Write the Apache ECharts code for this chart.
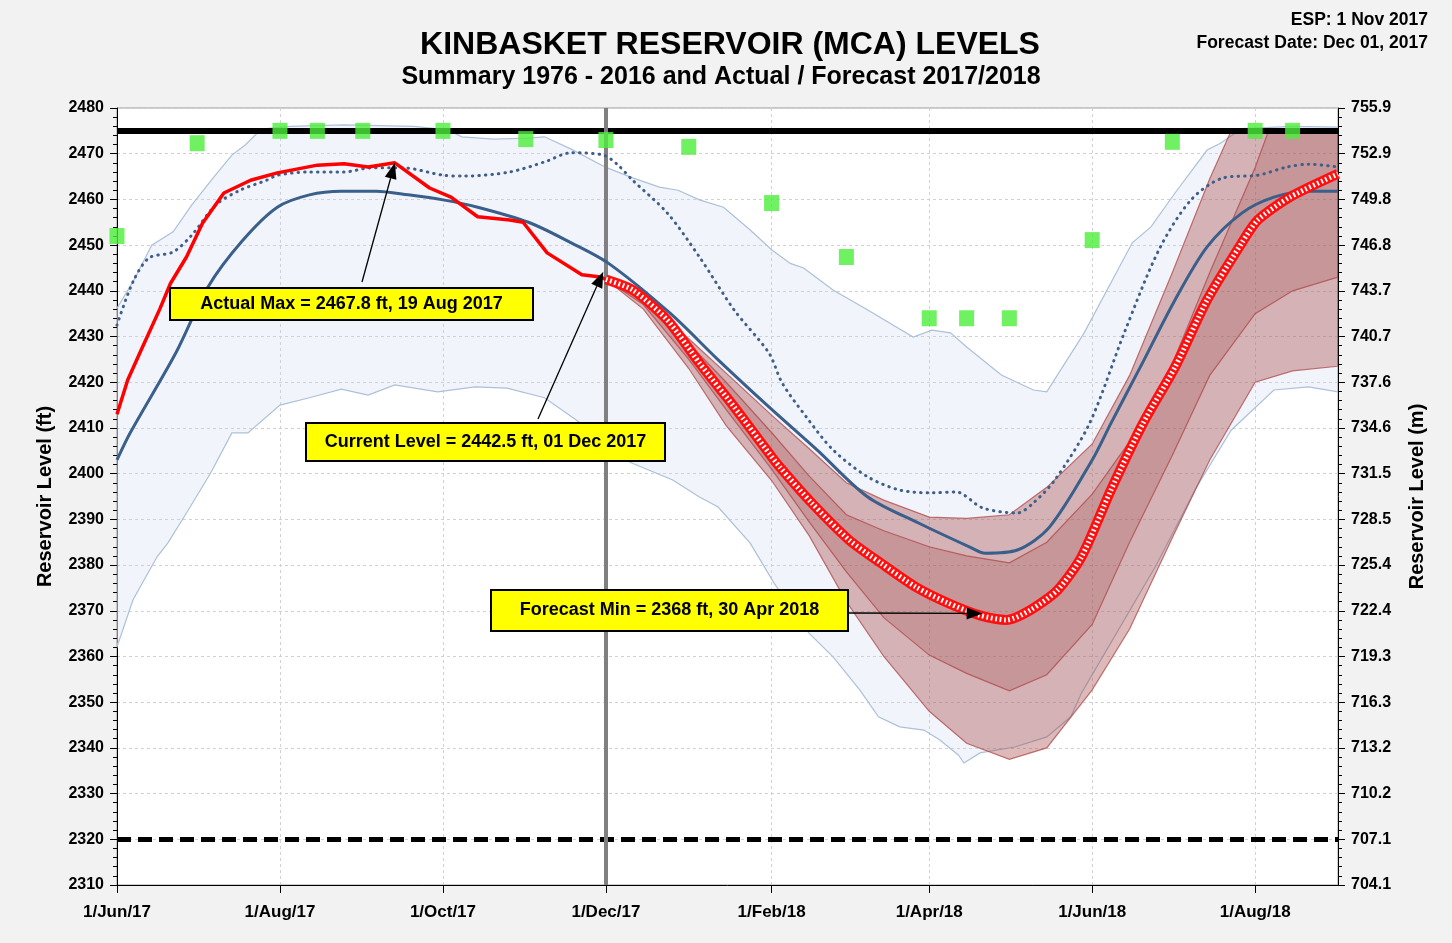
<!DOCTYPE html>
<html>
<head>
<meta charset="utf-8">
<script src="https://cdn.jsdelivr.net/npm/echarts@6/dist/echarts.min.js"></script>
<style>
html,body{margin:0;padding:0;background:#f2f2f2;}
#chart{width:1452px;height:943px;}
</style>
</head>
<body>
<div id="chart"></div>
<script>
// ---------------- DATA ----------------
const xTickDates = ['2017-06-01','2017-08-01','2017-10-01','2017-12-01','2018-02-01','2018-04-01','2018-06-01','2018-08-01'];
const xTickLabels = ['1/Jun/17','1/Aug/17','1/Oct/17','1/Dec/17','1/Feb/18','1/Apr/18','1/Jun/18','1/Aug/18'];
const xStart = '2017-06-01';
const xEnd = '2018-09-01';
const yMinFt = 2310, yMaxFt = 2480, yStepFt = 10;
const ftToM = 0.3048;

const fullPool = 2475;          // solid black line
const minPool = 2320;           // dashed black line
const forecastDate = '2017-12-01';

// historical 1976-2016 envelope
const histMax = [['2017-06-01',2436.2],['2017-06-07',2442.0],['2017-06-14',2450.0],['2017-06-22',2452.9],['2017-06-29',2458.8],['2017-07-07',2464.7],['2017-07-14',2469.7],['2017-07-19',2471.9],['2017-07-25',2475.4],['2017-08-05',2476.0],['2017-08-25',2476.3],['2017-09-20',2476.0],['2017-10-03',2475.2],['2017-10-08',2473.7],['2017-10-20',2473.2],['2017-11-02',2473.4],['2017-11-08',2473.7],['2017-11-18',2471.0],['2017-12-01',2467.0],['2017-12-11',2464.7],['2017-12-21',2462.7],['2017-12-28',2462.0],['2018-01-05',2459.9],['2018-01-14',2458.3],['2018-01-24',2453.3],['2018-02-01',2449.0],['2018-02-08',2446.0],['2018-02-13',2445.0],['2018-02-24',2440.2],['2018-03-09',2435.8],['2018-03-26',2429.9],['2018-04-02',2431.4],['2018-04-09',2430.8],['2018-04-15',2427.7],['2018-04-28',2421.6],['2018-05-10',2418.3],['2018-05-15',2417.9],['2018-05-29',2430.8],['2018-06-16',2450.5],['2018-06-23',2454.0],['2018-07-02',2461.4],['2018-07-14',2470.8],['2018-07-19',2472.3],['2018-07-27',2475.5],['2018-08-15',2476.0],['2018-09-01',2475.8]];
const histMin = [['2017-06-01',2362.1],['2017-06-07',2372.4],['2017-06-16',2381.8],['2017-06-20',2384.8],['2017-06-27',2391.4],['2017-07-06',2400.1],['2017-07-14',2408.9],['2017-07-20',2408.9],['2017-08-01',2415.0],['2017-08-12',2416.6],['2017-08-24',2418.5],['2017-09-03',2417.2],['2017-09-13',2419.4],['2017-09-29',2417.9],['2017-10-13',2419.0],['2017-10-25',2418.7],['2017-11-08',2416.6],['2017-11-20',2411.7],['2017-12-10',2402.5],['2017-12-26',2398.6],['2018-01-05',2394.9],['2018-01-12',2392.7],['2018-01-24',2384.8],['2018-02-02',2376.0],['2018-02-15',2365.1],['2018-02-24',2359.9],['2018-03-06',2352.7],['2018-03-13',2346.8],['2018-03-21',2344.6],['2018-03-30',2343.9],['2018-04-05',2341.7],['2018-04-12',2338.4],['2018-04-14',2336.7],['2018-04-20',2338.9],['2018-05-03',2340.2],['2018-05-15',2342.4],['2018-05-24',2346.8],['2018-05-28',2352.0],['2018-06-10',2365.0],['2018-06-25',2380.0],['2018-07-10',2397.0],['2018-07-23',2409.5],['2018-08-08',2418.3],['2018-08-21',2419.0],['2018-09-01',2417.9]];
const histMean = [['2017-06-01',2403.0],['2017-06-06',2409.0],['2017-06-23',2426.4],['2017-07-05',2440.8],['2017-07-18',2451.0],['2017-07-31',2458.3],['2017-08-12',2461.0],['2017-08-24',2461.8],['2017-09-06',2461.8],['2017-09-18',2461.0],['2017-10-01',2459.9],['2017-10-14',2458.3],['2017-11-02',2455.0],['2017-11-18',2450.5],['2017-12-02',2446.0],['2017-12-25',2435.1],['2018-01-12',2424.9],['2018-01-31',2414.6],['2018-02-18',2405.2],['2018-03-09',2394.9],['2018-03-28',2389.2],['2018-04-16',2384.0],['2018-04-22',2382.6],['2018-05-04',2383.3],['2018-05-16',2388.3],['2018-06-01',2403.0],['2018-06-08',2411.0],['2018-06-19',2423.3],['2018-07-02',2438.0],['2018-07-14',2449.6],['2018-07-27',2457.0],['2018-08-08',2460.5],['2018-08-21',2461.8],['2018-09-01',2461.8]];
// dotted trace
const dottedTrace = [['2017-06-01',2432.5],['2017-06-07',2442.0],['2017-06-13',2447.2],['2017-06-22',2448.5],['2017-06-29',2452.2],['2017-07-08',2458.8],['2017-07-17',2462.0],['2017-07-27',2464.2],['2017-07-31',2465.3],['2017-08-12',2466.0],['2017-08-25',2466.0],['2017-09-04',2466.9],['2017-09-16',2466.9],['2017-10-01',2465.3],['2017-10-09',2465.1],['2017-10-26',2466.0],['2017-11-08',2468.2],['2017-11-18',2470.2],['2017-11-30',2469.7],['2017-12-05',2467.8],['2017-12-11',2464.2],['2017-12-24',2457.0],['2018-01-05',2447.4],['2018-01-18',2435.8],['2018-01-31',2426.4],['2018-02-05',2419.8],['2018-02-14',2412.4],['2018-02-24',2405.2],['2018-03-09',2399.3],['2018-03-21',2396.4],['2018-04-02',2395.8],['2018-04-11',2396.0],['2018-04-21',2392.5],['2018-05-04',2391.4],['2018-05-10',2393.6],['2018-05-18',2398.6],['2018-05-31',2411.0],['2018-06-13',2430.8],['2018-06-26',2449.0],['2018-07-08',2459.9],['2018-07-20',2464.7],['2018-08-02',2465.3],['2018-08-13',2467.1],['2018-08-21',2467.7],['2018-09-01',2467.1]];
// actual 2017
const actual2017 = [['2017-06-01',2413.0],['2017-06-05',2420.5],['2017-06-10',2427.0],['2017-06-17',2436.0],['2017-06-21',2441.6],['2017-06-27',2447.4],['2017-07-03',2454.8],['2017-07-11',2461.4],['2017-07-21',2464.2],['2017-07-31',2465.8],['2017-08-15',2467.5],['2017-08-25',2467.8],['2017-09-03',2467.1],['2017-09-13',2468.0],['2017-09-26',2462.5],['2017-10-04',2460.5],['2017-10-14',2456.2],['2017-10-26',2455.5],['2017-10-31',2455.0],['2017-11-09',2448.3],['2017-11-22',2443.5],['2017-11-29',2443.0],['2017-12-01',2442.5]];
// forecast (expected)
const forecast = [['2017-12-01',2442.5],['2017-12-11',2440.2],['2017-12-24',2433.6],['2018-01-05',2424.2],['2018-01-18',2414.6],['2018-01-31',2404.5],['2018-02-04',2401.5],['2018-02-16',2393.6],['2018-03-02',2385.5],['2018-03-14',2380.4],['2018-03-27',2375.2],['2018-04-08',2371.7],['2018-04-20',2369.0],['2018-04-30',2368.0],['2018-05-09',2370.2],['2018-05-19',2374.5],['2018-05-28',2381.8],['2018-06-08',2396.4],['2018-06-20',2411.0],['2018-07-02',2423.3],['2018-07-14',2438.0],['2018-07-27',2450.5],['2018-08-02',2455.5],['2018-08-14',2460.5],['2018-09-01',2465.6]];
// forecast bands (capped at full pool)
const outerUpper = [['2017-12-01',2442.5],['2017-12-15',2438.5],['2018-01-01',2429.5],['2018-01-15',2422.0],['2018-02-01',2412.8],['2018-02-15',2405.5],['2018-03-01',2398.0],['2018-03-15',2394.2],['2018-04-01',2390.5],['2018-04-15',2390.2],['2018-05-01',2391.0],['2018-05-15',2397.0],['2018-06-01',2406.5],['2018-06-15',2421.5],['2018-07-01',2444.0],['2018-07-15',2464.5],['2018-07-23',2475.0],['2018-09-01',2475.0]];
const innerUpper = [['2017-12-01',2442.5],['2017-12-15',2437.8],['2018-01-01',2428.5],['2018-01-15',2420.0],['2018-02-01',2409.0],['2018-02-15',2399.5],['2018-03-01',2391.0],['2018-03-15',2387.5],['2018-04-01',2384.0],['2018-04-15',2382.0],['2018-05-01',2380.5],['2018-05-15',2385.0],['2018-06-01',2395.5],['2018-06-15',2407.0],['2018-07-01',2424.0],['2018-07-15',2444.0],['2018-08-01',2467.0],['2018-08-06',2475.0],['2018-09-01',2475.0]];
const innerLower = [['2017-12-01',2442.5],['2017-12-15',2437.0],['2018-01-01',2425.0],['2018-01-15',2414.0],['2018-02-01',2401.0],['2018-02-15',2389.5],['2018-03-01',2378.5],['2018-03-15',2368.5],['2018-04-01',2360.3],['2018-04-15',2356.3],['2018-05-01',2352.5],['2018-05-15',2356.0],['2018-06-01',2367.0],['2018-06-15',2385.0],['2018-07-01',2404.0],['2018-07-15',2421.5],['2018-08-01',2435.0],['2018-08-15',2440.0],['2018-09-01',2443.0]];
const outerLower = [['2017-12-01',2442.5],['2017-12-15',2436.0],['2018-01-01',2423.0],['2018-01-15',2410.5],['2018-02-01',2398.5],['2018-02-15',2386.5],['2018-03-01',2372.0],['2018-03-15',2360.0],['2018-04-01',2348.0],['2018-04-15',2341.0],['2018-05-01',2337.5],['2018-05-15',2340.0],['2018-06-01',2352.7],['2018-06-15',2366.0],['2018-07-01',2386.0],['2018-07-15',2403.0],['2018-08-01',2420.0],['2018-08-15',2422.5],['2018-09-01',2423.5]];
// green markers
const greenMarks = [['2017-06-01',2452.0],['2017-07-01',2472.3],['2017-08-01',2475.0],['2017-08-15',2475.0],['2017-09-01',2475.0],['2017-10-01',2475.0],['2017-11-01',2473.2],['2017-12-01',2473.0],['2018-01-01',2471.5],['2018-02-01',2459.2],['2018-03-01',2447.4],['2018-04-01',2434.0],['2018-04-15',2434.0],['2018-05-01',2434.0],['2018-06-01',2451.1],['2018-07-01',2472.6],['2018-08-01',2475.0],['2018-08-15',2475.0]];
// annotations: text and the data point each arrow points at
const annoTexts = ['Actual Max = 2467.8 ft, 19 Aug 2017','Current Level = 2442.5 ft, 01 Dec 2017','Forecast Min = 2368 ft, 30 Apr 2018'];
const annoTargets = [['2017-09-13',2468.0],['2017-11-30',2444.2],['2018-04-21',2369.4]];

// ---------------- LAYOUT ----------------
const annoLayout = [
  {box:[170,288,363,32], tail:[362,282]},
  {box:[306,423,359,38], tail:[538,419]},
  {box:[491,590,357,41], tail:[848,613]}
];
const FONT = "'Liberation Sans', Arial, sans-serif";

const P = s => +new Date(s + 'T00:00:00');
const ts = arr => arr.map(d => [P(d[0]), d[1]]);
const xTickTs = xTickDates.map(P);

function polygonSeries(name, upper, lower, fill, stroke, z) {
  const up = ts(upper), lo = ts(lower).reverse();
  return {
    type: 'custom', name, z, silent: true, clip: true,
    data: [[up[0][0], up[0][1]]],
    encode: {x: 0, y: 1},
    renderItem: (params, api) => {
      const pts = up.concat(lo).map(p => api.coord(p));
      return {type: 'polygon', shape: {points: pts}, style: {fill, stroke, lineWidth: 1.2}};
    }
  };
}

const chart = echarts.init(document.getElementById('chart'));
const gridStyle = {color: '#d2d2d2', type: [3, 3], width: 1};

const option = {
  animation: false,
  backgroundColor: '#f2f2f2',
  grid: {left: 117, right: 114, top: 108, bottom: 58, show: true, backgroundColor: '#ffffff', borderColor: '#9a9a9a', borderWidth: 1},
  xAxis: {
    type: 'value', min: P(xStart), max: P(xEnd), scale: true,
    axisLine: {show: true, onZero: false, lineStyle: {color: '#000', width: 1}},
    axisTick: {show: true, customValues: xTickTs, length: 8, lineStyle: {color: '#000'}},
    axisLabel: {
      customValues: xTickTs, color: '#000', fontWeight: 'bold', fontSize: 17, fontFamily: FONT, margin: 19,
      formatter: v => { const i = xTickTs.indexOf(+v); return i >= 0 ? xTickLabels[i] : ''; }
    },
    splitLine: {show: true, lineStyle: gridStyle}
  },
  yAxis: [
    {
      type: 'value', position: 'left', min: yMinFt, max: yMaxFt, interval: yStepFt,
      name: 'Reservoir Level (ft)', nameLocation: 'middle', nameGap: 62, nameRotate: 90,
      nameTextStyle: {fontWeight: 'bold', fontSize: 20, color: '#000', fontFamily: FONT},
      axisLine: {show: true, lineStyle: {color: '#000'}},
      axisTick: {show: true, length: 7, lineStyle: {color: '#000'}},
      minorTick: {show: true, splitNumber: 5, length: 4, lineStyle: {color: '#000'}},
      axisLabel: {color: '#000', fontWeight: 'bold', fontSize: 16, fontFamily: FONT, margin: 13,
        formatter: v => String(v)},
      splitLine: {show: true, lineStyle: gridStyle}
    },
    {
      type: 'value', position: 'right', min: yMinFt, max: yMaxFt, interval: yStepFt,
      name: 'Reservoir Level (m)', nameLocation: 'middle', nameGap: 69, nameRotate: 90,
      nameTextStyle: {fontWeight: 'bold', fontSize: 20, color: '#000', fontFamily: FONT},
      axisLine: {show: true, lineStyle: {color: '#000'}},
      axisTick: {show: true, length: 7, lineStyle: {color: '#000'}},
      minorTick: {show: true, splitNumber: 5, length: 4, lineStyle: {color: '#000'}},
      axisLabel: {color: '#000', fontWeight: 'bold', fontSize: 16, fontFamily: FONT, margin: 13,
        formatter: v => (v * ftToM).toFixed(1)},
      splitLine: {show: false}
    }
  ],
  series: [
    polygonSeries('Historical range', histMax, histMin, 'rgba(190,210,235,0.22)', '#adc0d8', 1),
    polygonSeries('Forecast outer band', outerUpper, outerLower, 'rgba(160,60,60,0.36)', 'rgba(175,70,70,0.75)', 2),
    polygonSeries('Forecast inner band', innerUpper, innerLower, 'rgba(150,50,50,0.22)', 'rgba(175,70,70,0.75)', 3),
    {
      type: 'line', name: 'limits', data: [], z: 4, silent: true,
      markLine: {
        silent: true, symbol: ['none', 'none'], label: {show: false},
        data: [
          {yAxis: fullPool, lineStyle: {color: '#000', width: 6, type: 'solid'}},
          {yAxis: minPool, lineStyle: {color: '#000', width: 5, type: [14, 7]}}
        ]
      }
    },
    {type: 'line', name: 'Mean 1976-2016', data: ts(histMean), showSymbol: false, smooth: 0.3, z: 5,
      lineStyle: {color: '#3a5f8b', width: 3}},
    {type: 'line', name: 'Dotted trace', data: ts(dottedTrace), showSymbol: false, smooth: 0.3, z: 5,
      lineStyle: {color: '#3f5f88', width: 3, type: [0.5, 6], cap: 'round'}},
    {type: 'line', name: 'Actual 2017', data: ts(actual2017), showSymbol: false, z: 6,
      lineStyle: {color: '#ff0000', width: 3.5}},
    {type: 'line', name: 'Forecast', data: ts(forecast), showSymbol: false, smooth: 0.25, z: 6,
      lineStyle: {color: '#ff1010', width: 10}},
    {type: 'line', name: 'Forecast markers', data: ts(forecast), showSymbol: false, smooth: 0.25, z: 6,
      lineStyle: {color: '#ffffff', width: 5, type: [1.8, 2.6]}},
    {type: 'scatter', name: 'Targets', data: ts(greenMarks), symbol: 'rect', symbolSize: [15, 16], z: 8,
      itemStyle: {color: '#4cee3a'}},
    {
      type: 'line', name: 'forecast date', data: [], z: 9, silent: true,
      markLine: {
        silent: true, symbol: ['none', 'none'], label: {show: false},
        data: [{xAxis: P(forecastDate), lineStyle: {color: '#808080', width: 4, type: 'solid'}}]
      }
    }
  ]
};
chart.setOption(option);

// texts and annotations
const graphics = [
  {type: 'text', x: 730, y: 45, z: 100, style: {text: 'KINBASKET RESERVOIR (MCA) LEVELS', font: 'bold 32px ' + FONT, fill: '#000', textAlign: 'center', textVerticalAlign: 'middle'}},
  {type: 'text', x: 721, y: 77, z: 100, style: {text: 'Summary 1976 - 2016 and Actual / Forecast 2017/2018', font: 'bold 25px ' + FONT, fill: '#000', textAlign: 'center', textVerticalAlign: 'middle'}},
  {type: 'text', x: 1428, y: 20, z: 100, style: {text: 'ESP: 1 Nov 2017', font: 'bold 17.5px ' + FONT, fill: '#000', textAlign: 'right', textVerticalAlign: 'middle'}},
  {type: 'text', x: 1428, y: 43, z: 100, style: {text: 'Forecast Date: Dec 01, 2017', font: 'bold 17.5px ' + FONT, fill: '#000', textAlign: 'right', textVerticalAlign: 'middle'}}
];
annoTexts.forEach((t, i) => {
  const L = annoLayout[i];
  const tip = chart.convertToPixel({xAxisIndex: 0, yAxisIndex: 0}, [P(annoTargets[i][0]), annoTargets[i][1]]);
  const tail = L.tail;
  const dx = tip[0] - tail[0], dy = tip[1] - tail[1];
  const len = Math.sqrt(dx * dx + dy * dy);
  const ux = dx / len, uy = dy / len, px = -uy, py = ux;
  const hl = 16, hw = 6;
  const bx = tip[0] - ux * hl, by = tip[1] - uy * hl;
  graphics.push({type: 'line', z: 100, shape: {x1: tail[0], y1: tail[1], x2: bx, y2: by}, style: {stroke: '#000', lineWidth: 1.3}});
  graphics.push({type: 'polygon', z: 100, shape: {points: [[tip[0], tip[1]], [bx + px * hw, by + py * hw], [bx - px * hw, by - py * hw]]}, style: {fill: '#000'}});
  graphics.push({type: 'rect', z: 101, shape: {x: L.box[0], y: L.box[1], width: L.box[2], height: L.box[3]}, style: {fill: '#ffff00', stroke: '#000', lineWidth: 2}});
  graphics.push({type: 'text', z: 102, x: L.box[0] + L.box[2] / 2, y: L.box[1] + L.box[3] / 2, style: {text: t, font: 'bold 18px ' + FONT, fill: '#000', textAlign: 'center', textVerticalAlign: 'middle'}});
});
chart.setOption({graphic: graphics});
</script>
</body>
</html>
